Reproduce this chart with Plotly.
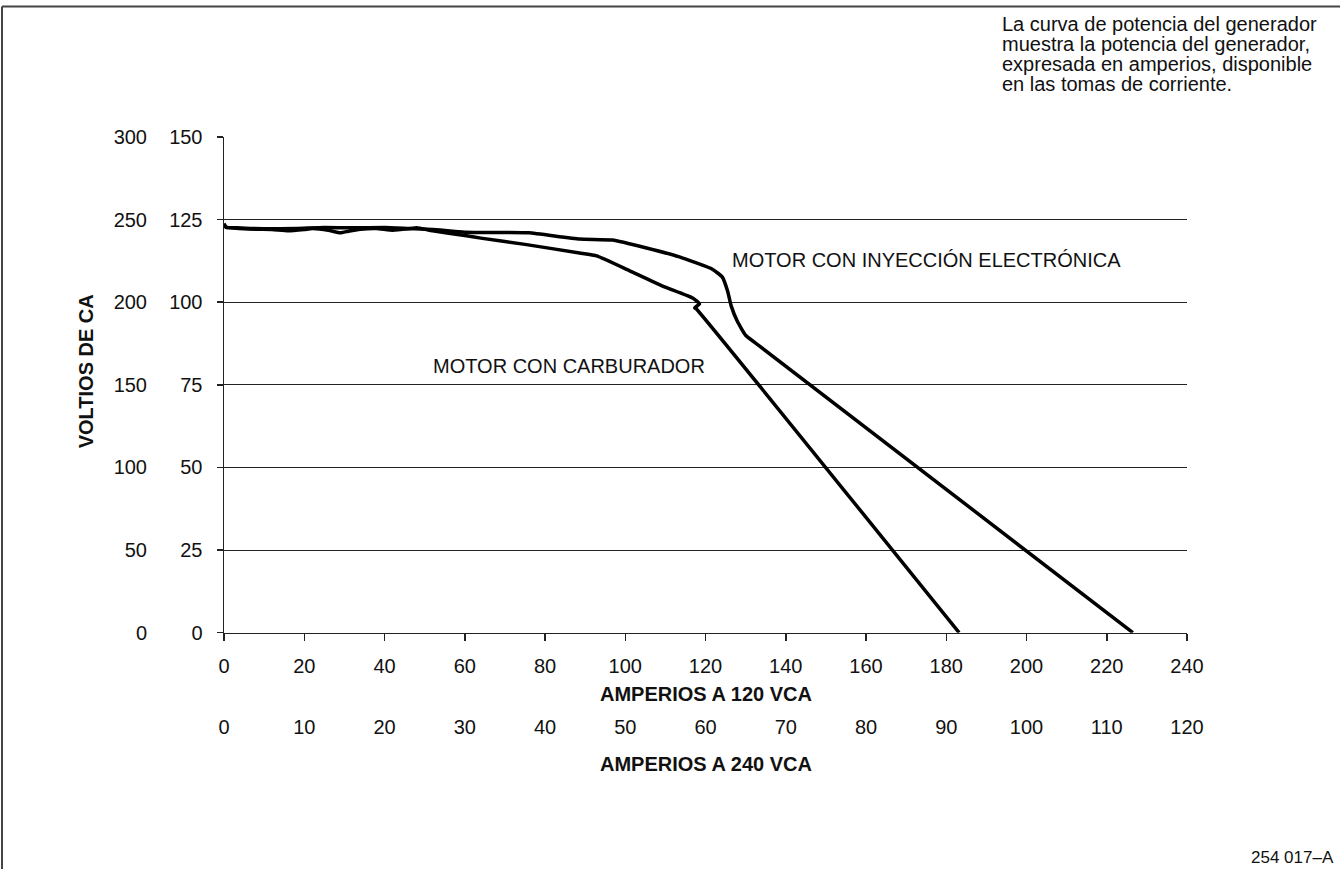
import plotly.graph_objects as go

# ---------------- data ----------------
amps_ticks_120 = [0, 20, 40, 60, 80, 100, 120, 140, 160, 180, 200, 220, 240]
amps_ticks_240 = [0, 10, 20, 30, 40, 50, 60, 70, 80, 90, 100, 110, 120]
volt_ticks_120 = [0, 25, 50, 75, 100, 125, 150]
volt_ticks_240 = [0, 50, 100, 150, 200, 250, 300]

# carburetted engine (amps @120V, volts on the 150 scale)
carb_x = [0, 0.5, 3, 8, 12, 16, 20, 22, 26, 29, 31, 34, 38, 42, 46, 48, 52,
          60, 64, 75, 88.6, 92.9, 101.1, 109.3, 116.8, 118.5, 117.3, 117.7, 183.2]
carb_y = [123.8, 122.8, 122.4, 122.1, 122.0, 121.6, 122.0, 122.3, 121.8, 121.0,
          121.5, 122.1, 122.3, 121.8, 122.2, 122.5, 121.6,
          120.2, 119.4, 117.5, 114.9, 114.0, 109.5, 104.9, 101.3, 99.5, 98.3, 98.0, 0]

# electronic fuel injection engine
efi_x = [0, 0.5, 3, 10, 18, 25, 32, 40, 46, 52, 60, 70, 76, 88.6, 96.8, 105.3,
         113.5, 121.7, 124.2, 125.5, 126.4, 127.9, 130.0, 133.4, 226.5]
efi_y = [123.5, 122.6, 122.5, 122.2, 122.3, 122.6, 122.5, 122.6, 122.3, 122.0,
         121.2, 121.1, 121.0, 119.1, 118.8, 116.4,
         113.7, 110.0, 107.6, 103.4, 98.9, 94.3, 90.0, 86.8, 0]

note_lines = ["La curva de potencia del generador",
              "muestra la potencia del generador,",
              "expresada en amperios, disponible",
              "en las tomas de corriente."]

# ---------------- layout helpers (pixel -> paper) ----------------
W, H = 1340, 869
PL, PR, PT, PB = 224, 1187, 136.5, 809
def px_x(px):
    return (px - PL) / (PR - PL)
def px_y(py):
    return (PB - py) / (PB - PT)

FONT = "Liberation Sans, Arial, sans-serif"
INK = "#111111"

fig = go.Figure()
fig.add_trace(go.Scatter(x=carb_x, y=carb_y, mode="lines",
                         line=dict(color="black", width=3.5, shape="spline", smoothing=0.4),
                         showlegend=False, hoverinfo="skip"))
fig.add_trace(go.Scatter(x=efi_x, y=efi_y, mode="lines",
                         line=dict(color="black", width=3.5, shape="spline", smoothing=0.4),
                         showlegend=False, hoverinfo="skip"))
# invisible traces to activate secondary axes
fig.add_trace(go.Scatter(x=[amps_ticks_240[0], amps_ticks_240[-1]], y=[0, 0], xaxis="x2", yaxis="y",
                         mode="markers", marker=dict(opacity=0), showlegend=False, hoverinfo="skip"))
fig.add_trace(go.Scatter(x=[0, 0], y=[volt_ticks_240[0], volt_ticks_240[-1]], xaxis="x", yaxis="y2",
                         mode="markers", marker=dict(opacity=0), showlegend=False, hoverinfo="skip"))

ydom0 = px_y(632.5)

fig.update_layout(
    width=W, height=H,
    margin=dict(l=PL, r=W - PR, t=PT, b=H - PB, pad=0),
    paper_bgcolor="white", plot_bgcolor="white",
    font=dict(family=FONT, size=20, color=INK),
    hovermode=False,
    xaxis=dict(range=[0, 240], tickvals=amps_ticks_120, ticktext=[str(v) for v in amps_ticks_120],
               showgrid=False, zeroline=False, showline=True, linecolor="#222", linewidth=1.5,
               ticks="outside", ticklen=7, tickcolor="#222", tickwidth=1.5,
               tickfont=dict(size=20, family=FONT, color=INK), ticklabelstandoff=8,
               anchor="y", fixedrange=True),
    xaxis2=dict(range=[0, 120], tickvals=amps_ticks_240, ticktext=[str(v) for v in amps_ticks_240],
                overlaying="x", anchor="free", position=px_y(713), side="bottom",
                showgrid=False, zeroline=False, showline=False, ticks="",
                tickfont=dict(size=20, family=FONT, color=INK), fixedrange=True),
    yaxis=dict(range=[0, 150], domain=[ydom0, 1], tickvals=volt_ticks_120,
               ticktext=[str(v) for v in volt_ticks_120],
               showgrid=True, gridcolor="#222", gridwidth=1, zeroline=False,
               showline=True, linecolor="#222", linewidth=1.5,
               ticks="outside", ticklen=6, tickcolor="#222", tickwidth=1.5,
               tickfont=dict(size=20, family=FONT, color=INK), ticklabelstandoff=10,
               fixedrange=True),
    yaxis2=dict(range=[0, 300], tickvals=volt_ticks_240, ticktext=[str(v) for v in volt_ticks_240],
                overlaying="y", side="left", anchor="x", showgrid=False, zeroline=False,
                showline=False, ticks="", tickfont=dict(size=20, family=FONT, color=INK),
                ticklabelstandoff=76, fixedrange=True),
)

ann = []
ann.append(dict(text="<b>AMPERIOS A 120 VCA</b>", x=px_x(705.5), y=px_y(694), xref="paper", yref="paper",
                showarrow=False, xanchor="center", yanchor="middle", font=dict(size=20)))
ann.append(dict(text="<b>AMPERIOS A 240 VCA</b>", x=px_x(705.5), y=px_y(764), xref="paper", yref="paper",
                showarrow=False, xanchor="center", yanchor="middle", font=dict(size=20)))
ann.append(dict(text="<b>VOLTIOS DE CA</b>", x=px_x(86), y=px_y(371), xref="paper", yref="paper",
                showarrow=False, xanchor="center", yanchor="middle", textangle=-90, font=dict(size=20)))
ann.append(dict(text="MOTOR CON INYECCIÓN ELECTRÓNICA", x=px_x(730), y=px_y(260), xref="paper", yref="paper",
                showarrow=False, xanchor="left", yanchor="middle", font=dict(size=20)))
ann.append(dict(text="MOTOR CON CARBURADOR", x=px_x(431), y=px_y(366), xref="paper", yref="paper",
                showarrow=False, xanchor="left", yanchor="middle", font=dict(size=20)))
for i, line in enumerate(note_lines):
    ann.append(dict(text=line, x=px_x(1000), y=px_y(23 + 20 * i), xref="paper", yref="paper",
                    showarrow=False, xanchor="left", yanchor="middle", font=dict(size=20)))
ann.append(dict(text="254 017–A", x=px_x(1336), y=px_y(858), xref="paper", yref="paper",
                showarrow=False, xanchor="right", yanchor="middle", font=dict(size=17)))
fig.update_layout(annotations=ann)

fig.add_shape(type="line", xref="paper", yref="paper", x0=px_x(2), x1=px_x(2), y0=px_y(869), y1=px_y(6),
              line=dict(color="#444", width=2))
fig.add_shape(type="line", xref="paper", yref="paper", x0=px_x(2), x1=px_x(1340), y0=px_y(6), y1=px_y(6),
              line=dict(color="#444", width=2))

fig.write_html("out.html", config={"displayModeBar": False, "staticPlot": True},
               post_script="document.body.style.margin='0px';document.body.style.overflow='hidden';")
